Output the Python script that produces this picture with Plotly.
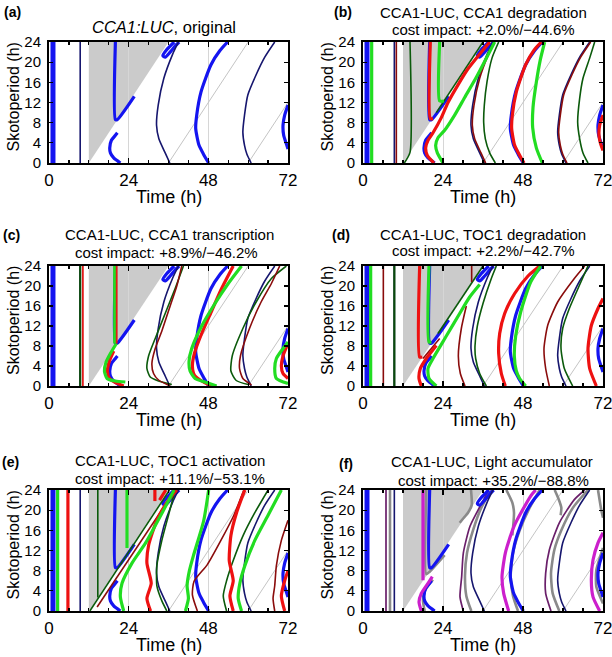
import plotly.graph_objects as go

W, H = 612, 657

# ---------------- shared data ----------------
dark_t = [12, 12, 36]          # dark-period region (lights off at 12 h)
dark_s = [0, 24, 24]
diag1_t = [36, 60]; diag1_s = [0, 24]
diag2_t = [60, 84]; diag2_s = [0, 24]

x_ticks = [0, 24, 48, 72]
y_ticks = [0, 4, 8, 12, 16, 20, 24]

# reference (original model) curves, shown in every panel
ref_edge_t = [1.2, 1.2]; ref_edge_s = [0, 24]
ref_navy_v_t = [9.4, 9.4]; ref_navy_v_s = [0, 24]
ref_blue_v_t = [20, 20, 20.6, 25.7]; ref_blue_v_s = [24, 8.6, 8.6, 13.2]
ref_blue_low_t = [21.5, 19.5, 18.5, 18.3, 18.8, 20.0, 20.6]; ref_blue_low_s = [0, 1, 2, 3, 4.5, 5.5, 6]
ref_blue_loop_t = [37.7, 35.5, 34.3, 35, 36.5, 38, 39.2]; ref_blue_loop_s = [24, 22.5, 21.3, 21, 22, 23.2, 24]
ref_navy1_t = [36.4, 35, 33.1, 32.4, 32.9, 34.6, 37.2, 39]; ref_navy1_s = [0, 2, 4.8, 7.5, 11.5, 16.8, 21.5, 24]
ref_blue2_t = [48.1, 46.5, 45.2, 44.2, 44.5, 45.8, 48.8, 51.5, 53.8]; ref_blue2_s = [0, 1.8, 3.5, 6.8, 9.5, 14.1, 19.5, 22.3, 24]
ref_navy2_t = [60.9, 59.6, 58.9, 58.4, 58.9, 59.9, 62.4, 65, 68]; ref_navy2_s = [0, 1.8, 3.5, 6.1, 9.5, 13.5, 17.5, 21, 24]
ref_blue3_t = [72, 71, 70.5, 70.7, 71.5, 72]; ref_blue3_s = [11.5, 9.5, 7.5, 5.5, 3.8, 2.8]

# panel (b): CCA1 degradation
b_green_v_t = [2.6, 2.6]; b_green_v_s = [0, 24]
b_dred_v_t = [10, 10]; b_dred_v_s = [0, 24]
b_dgreen_v_t = [14.1, 14.1, 12.4]; b_dgreen_v_s = [24, 2.1, 0]
b_red_v_t = [20.2, 20.2, 21]; b_red_v_s = [24, 8.8, 8.8]
b_dgreen_d_t = [22, 36]; b_dgreen_d_s = [10, 24]
b_red_low_t = [21.3, 19.3, 18.8, 19.5, 21, 23.5, 25.5, 28.5, 31.3, 38]; b_red_low_s = [0, 1.5, 3, 4.5, 6, 9, 12, 15.5, 18.5, 24]
b_green_v2_t = [23, 23, 24.3]; b_green_v2_s = [24, 12.3, 12.3]
b_green_low_t = [24, 22.3, 21.8, 22.5, 24.5, 27.5, 30.5, 34, 39.5]; b_green_low_s = [0, 2, 3.5, 5, 6.5, 9.5, 13, 17, 24]
b_dred1_t = [36.8, 35.4, 33.5, 32.8, 33.3, 35, 37.6, 39.4]; b_dred1_s = [0, 2, 4.8, 7.5, 11.5, 16.8, 21.5, 24]
b_dgreen1_t = [39.7, 38, 36.7, 36.2, 36.4, 37.2, 38.7, 40.7]; b_dgreen1_s = [0, 2, 4.8, 8.1, 11.5, 16.1, 20.8, 24]
b_red2_t = [48.3, 46.8, 45.5, 44.6, 44.8, 46, 48.8, 51.2, 53.5]; b_red2_s = [0, 1.8, 3.5, 6.8, 9.5, 14.1, 19.5, 22.3, 24]
b_green2_t = [53.8, 52, 50.9, 51, 52, 53.2, 54.5]; b_green2_s = [0, 3, 7, 11, 16, 20.5, 24]
b_dred2_t = [61.2, 59.9, 59.2, 58.7, 59.2, 60.2, 62.7, 65.3, 68.3]; b_dred2_s = [0, 1.8, 3.5, 6.1, 9.5, 13.5, 17.5, 21, 24]
b_dgreen2_t = [67.5, 66, 65, 64.4, 65, 66, 68, 69.5]; b_dgreen2_s = [0, 2, 4.8, 8.1, 12.8, 16.8, 20.8, 24]
b_red3_t = [72, 71, 70.8, 71.2, 72]; b_red3_s = [9.5, 7.5, 5.5, 4, 2.5]

# panel (c): CCA1 transcription
c_dgreen_v_t = [9.4, 9.4]; c_dgreen_v_s = [0, 24]
c_red_v_t = [10.2, 10.2]; c_red_v_s = [0, 24]
c_green_v_t = [19.8, 19.8]; c_green_v_s = [24, 8.5]
c_red_v2_t = [20.4, 20.4]; c_red_v2_s = [24, 8.5]
c_green_low_t = [23, 20, 17.5, 16.7, 17.2, 18.5, 20.3]; c_green_low_s = [0.8, 1, 1.5, 3, 4.8, 6.5, 8.5]
c_red_low_t = [22.5, 20, 18.2, 17.6, 18.2, 19.5]; c_red_low_s = [0, 0.7, 1.5, 3, 5, 7]
c_dgreen1_t = [37, 33, 30.5, 29.5, 30, 32, 35, 38, 40.5]; c_dgreen1_s = [0.3, 1, 1.8, 3.5, 6, 9.5, 14.5, 19.5, 24]
c_dred1_t = [36.5, 33, 31.5, 31, 32, 34, 36.5, 38.5, 40]; c_dred1_s = [0, 1.2, 2.5, 4.5, 7.5, 11, 16, 20, 24]
c_green2_t = [50.5, 47, 44, 42.5, 42.2, 43, 46, 50, 54, 58]; c_green2_s = [0, 0.8, 1.5, 3, 5, 7.5, 12, 16.5, 20.5, 24]
c_red2_t = [49, 46, 43.8, 43.2, 43.8, 46, 49, 52, 55.5]; c_red2_s = [0, 1, 2.2, 4, 6.5, 10.5, 15, 19.5, 24]
c_dgreen2_t = [60, 56.4, 54.8, 55.2, 58.4, 62.4, 67, 71.5]; c_dgreen2_s = [0.3, 1.1, 3, 6, 11.5, 16.8, 21.5, 24]
c_dred2_t = [61, 58.4, 57.4, 57.7, 60.4, 63.9, 67, 69.5]; c_dred2_s = [0.2, 1.5, 3.5, 6.1, 11.5, 16.8, 20.5, 24]
c_green3_t = [72, 68.5, 68, 68.5, 70.5, 72]; c_green3_s = [0.5, 1.5, 3.5, 5.5, 7.5, 8.8]
c_red3_t = [72, 70.5, 70, 70.5, 72]; c_red3_s = [1.5, 2.5, 4, 6, 8.5]

# panel (d): TOC1 degradation
d_green_v_t = [2.3, 2.3]; d_green_v_s = [0, 24]
d_dred_v_t = [6.1, 6.1]; d_dred_v_s = [0, 24]
d_dgreen_v_t = [9.4, 9.4]; d_dgreen_v_s = [0, 24]
d_red_v_t = [17, 17, 17.8]; d_red_v_s = [24, 5.8, 5.8]
d_dred_d_t = [18, 23]; d_dred_d_s = [5.5, 9.5]
d_green_v2_t = [19.8, 19.8, 20.5]; d_green_v2_s = [24, 8.8, 8.8]
d_dgreen_d_t = [22.5, 36]; d_dgreen_d_s = [10.5, 24]
d_dred_v2_t = [32.6, 32.6]; d_dred_v2_s = [24, 20.8]
d_green_low_t = [22, 19.8, 19.5, 21, 25, 29, 32, 35]; d_green_low_s = [0, 1.5, 3.5, 5.5, 10, 14.5, 17.8, 20.3]
d_red_low_t = [17.5, 16.8, 17.2, 19, 22]; d_red_low_s = [0, 1.5, 3.5, 5.5, 8.1]
d_dred1_t = [30.6, 29.2, 28.6, 29.5, 31]; d_dred1_s = [0, 2.5, 6, 11.5, 16]
d_dgreen1_t = [37, 35, 33.8, 33.6, 34.3, 36, 38.5, 40]; d_dgreen1_s = [0, 2.5, 5.5, 8, 12, 16.5, 21.5, 24]
d_red2_t = [42.7, 41.5, 40.7, 41, 42.5, 45.5, 49.5, 53]; d_red2_s = [0, 2.5, 6.5, 10.5, 14.5, 18.5, 22, 24]
d_green2_t = [48.8, 47, 46, 45.4, 45.8, 47.3, 50.3, 53.3]; d_green2_s = [0, 1.5, 3, 6, 10, 14.8, 20.8, 24]
d_dred2_t = [55.9, 54.8, 54.3, 55.4, 58.4, 63.4, 66.5]; d_dred2_s = [0, 3.5, 7.5, 12.1, 16.8, 21.5, 24]
d_dgreen2_t = [62.9, 60.4, 59.4, 59.9, 61.9, 64.9, 67.5]; d_dgreen2_s = [0, 3.5, 7.5, 11.5, 15.5, 20.1, 24]
d_red3_t = [70, 68, 67.5, 68.5, 70.5, 72]; d_red3_s = [0, 3.5, 7.5, 12.1, 15.5, 17.5]

# panel (e): TOC1 activation
e_green_v_t = [2.6, 2.6]; e_green_v_s = [0, 24]
e_red_v_t = [5.7, 5.7]; e_red_v_s = [0, 24]
e_dgreen_v_t = [14.7, 14.7]; e_dgreen_v_s = [24, 2.7]
e_dgreen_d_t = [12.3, 36.3]; e_dgreen_d_s = [0, 24]
e_dred_d_t = [14.5, 38]; e_dred_d_s = [0.8, 24]
e_green_v2_t = [23.5, 23.5]; e_green_v2_s = [24, 12.5]
e_red_sh_t = [31.9, 31.9]; e_red_sh_s = [24, 21.8]
e_red_sh2_t = [33.3, 35.2]; e_red_sh2_s = [22, 24]
e_green_low_t = [22.5, 21.5, 22, 25, 29.1, 34.1, 37.7]; e_green_low_s = [0, 2.8, 5.5, 9.5, 13.5, 19.5, 24]
e_red1_t = [30.6, 29.5, 30.8, 29.5, 30, 32.5, 36, 38.5]; e_red1_s = [0, 2.5, 5.5, 9.5, 13, 18, 22, 24]
e_dgreen1_t = [35.5, 34, 32.5, 32.5, 34, 36, 38]; e_dgreen1_s = [0, 2, 5, 9, 14, 19, 24]
e_green2_t = [41.1, 42, 41.6, 42.3, 43.6, 46.6, 48.1]; e_green2_s = [0, 2.5, 5, 8, 11.2, 17.9, 24]
e_dred2_t = [44.7, 43.2, 43.7, 47.7, 51.7, 55.7, 58.7]; e_dred2_s = [0, 3.2, 5.9, 9.2, 13.9, 19, 24]
e_red2_t = [55.5, 54.5, 55.5, 54.3, 54.8, 56.5, 59]; e_red2_s = [0, 3, 6, 10, 15, 19.5, 24]
e_dgreen2_t = [53.5, 52.5, 53.5, 55.5, 58.5, 62, 66]; e_dgreen2_s = [0, 3, 6, 10, 15, 19.5, 24]
e_green3_t = [58, 57, 57.5, 59, 62, 66, 70]; e_green3_s = [0, 2.5, 5.5, 9, 14, 19, 24]
e_dred3_t = [68, 67.5, 68, 68.5, 70, 72]; e_dred3_s = [0, 2.5, 5, 9, 14, 18]
e_red3_t = [71, 70, 71, 72]; e_red3_s = [0, 3, 6, 8]

# panel (f): light accumulator
f_purp_v_t = [6.9, 6.9]; f_purp_v_s = [0, 24]
f_gray_v_t = [8.1, 8.1]; f_gray_v_s = [0, 24]
f_mag_v_t = [18, 18]; f_mag_v_s = [24, 6.1]
f_gray_v2_t = [19, 19, 20, 24.5]; f_gray_v2_s = [24, 7.3, 7.8, 11.1]
f_gray_up_t = [32.4, 32.6, 31.5, 30, 29]; f_gray_up_s = [24, 21, 19.5, 18.3, 17.5]
f_mag_low_t = [17.5, 16.8, 17.5, 19.5, 20.8]; f_mag_low_s = [0, 1.8, 3.5, 5.5, 6.8]
f_gray_low_t = [18.5, 18, 18.3, 19.5, 21]; f_gray_low_s = [0, 2, 3.5, 5, 6.2]
f_purp1_t = [30.1, 29.1, 29.6, 30.1, 32.1, 36.2, 37.7]; f_purp1_s = [0, 2.8, 6.8, 11.5, 16.8, 22.1, 24]
f_gray1_t = [32.5, 31, 30.6, 31.2, 33, 35.5, 38.5]; f_gray1_s = [0, 3, 7, 11.5, 16, 20.5, 24]
f_mag2_t = [43.7, 42.2, 41.7, 42.7, 45.3, 50.3, 51.8]; f_mag2_s = [0, 3.5, 6.8, 11.5, 16.8, 22.8, 24]
f_gray2_t = [46.5, 45, 44.3, 45, 47, 50, 53]; f_gray2_s = [0, 3, 6.8, 11.5, 16, 20.5, 24]
f_gray_t1_t = [43, 44.8, 45.3, 44.8]; f_gray_t1_s = [24, 21.5, 19.5, 15]
f_purp2_t = [56.4, 54.8, 54.8, 55.9, 58.9, 63.4, 66.5]; f_purp2_s = [0, 3.5, 7.5, 12.1, 17.5, 22.1, 24]
f_gray3_t = [58.9, 56.9, 56.4, 57.4, 59.5, 63, 67.5]; f_gray3_s = [0, 3.5, 7.5, 12.1, 16, 20.5, 24]
f_gray_t2_t = [57.5, 58.5, 59.5, 59.3]; f_gray_t2_s = [24, 22.5, 20.5, 19]
f_mag3_t = [71, 69, 68.5, 69, 70.5, 72]; f_mag3_s = [0, 2.8, 6.1, 10.1, 13.5, 15.5]
f_gray4_t = [72, 70, 70, 71.5, 72]; f_gray4_s = [1.5, 4.8, 8.1, 11.5, 12.5]
f_gray_t3_t = [70.5, 71.5, 72]; f_gray_t3_s = [24, 20, 18.5]

# ---------------- styles ----------------
ST = {
    'edge': dict(color='#1414f0', width=5),
    'blue': dict(color='#1414f0', width=3.2),
    'navy': dict(color='#16166e', width=1.6),
    'red': dict(color='#ee1111', width=3.2),
    'redthin': dict(color='#e01a1a', width=1.8),
    'dred': dict(color='#8a0c0c', width=1.6),
    'green': dict(color='#22dd22', width=3.2),
    'dgreen': dict(color='#0b5a0b', width=1.6),
    'dgreenv': dict(color='#0b4a0b', width=2.2),
    'mag': dict(color='#cc1fcc', width=3.2),
    'purp': dict(color='#6a1f6a', width=1.7),
    'gray': dict(color='#8a8a8a', width=2.6),
    'diag': dict(color='#c4c4c4', width=1),
}

ref = [
    (ref_edge_t, ref_edge_s, 'edge'), (ref_navy_v_t, ref_navy_v_s, 'navy'),
    (ref_blue_v_t, ref_blue_v_s, 'blue'), (ref_blue_low_t, ref_blue_low_s, 'blue'),
    (ref_blue_loop_t, ref_blue_loop_s, 'blue'), (ref_navy1_t, ref_navy1_s, 'navy'),
    (ref_blue2_t, ref_blue2_s, 'blue'), (ref_navy2_t, ref_navy2_s, 'navy'),
    (ref_blue3_t, ref_blue3_s, 'blue'),
]

panels = [
    [],
    [(b_green_v_t, b_green_v_s, 'green'), (b_dred_v_t, b_dred_v_s, 'dred'),
     (b_dgreen_v_t, b_dgreen_v_s, 'dgreen'), (b_dgreen_d_t, b_dgreen_d_s, 'dgreen'),
     (b_dred1_t, b_dred1_s, 'dred'), (b_dgreen1_t, b_dgreen1_s, 'dgreen'),
     (b_dred2_t, b_dred2_s, 'dred'), (b_dgreen2_t, b_dgreen2_s, 'dgreen'),
     (b_red_v_t, b_red_v_s, 'red'), (b_red_low_t, b_red_low_s, 'red'),
     (b_red2_t, b_red2_s, 'red'), (b_red3_t, b_red3_s, 'red'),
     (b_green_v2_t, b_green_v2_s, 'green'), (b_green_low_t, b_green_low_s, 'green'),
     (b_green2_t, b_green2_s, 'green')],
    [(c_dgreen_v_t, c_dgreen_v_s, 'dgreenv'), (c_red_v_t, c_red_v_s, 'redthin'),
     (c_dgreen1_t, c_dgreen1_s, 'dgreen'), (c_dred1_t, c_dred1_s, 'dred'),
     (c_dgreen2_t, c_dgreen2_s, 'dgreen'), (c_dred2_t, c_dred2_s, 'dred'),
     (c_red_low_t, c_red_low_s, 'red'), (c_red2_t, c_red2_s, 'red'), (c_red3_t, c_red3_s, 'red'),
     (c_green_low_t, c_green_low_s, 'green'), (c_green2_t, c_green2_s, 'green'),
     (c_green3_t, c_green3_s, 'green'),
     (c_green_v_t, c_green_v_s, 'green'), (c_red_v2_t, c_red_v2_s, 'redthin')],
    [(d_green_v_t, d_green_v_s, 'green'), (d_dred_v_t, d_dred_v_s, 'dred'),
     (d_dgreen_v_t, d_dgreen_v_s, 'dgreenv'), (d_dred_d_t, d_dred_d_s, 'dred'),
     (d_dgreen_d_t, d_dgreen_d_s, 'dgreen'), (d_dred_v2_t, d_dred_v2_s, 'dred'),
     (d_dred1_t, d_dred1_s, 'dred'), (d_dgreen1_t, d_dgreen1_s, 'dgreen'),
     (d_dred2_t, d_dred2_s, 'dred'), (d_dgreen2_t, d_dgreen2_s, 'dgreen'),
     (d_red_v_t, d_red_v_s, 'red'), (d_red_low_t, d_red_low_s, 'red'),
     (d_red2_t, d_red2_s, 'red'), (d_red3_t, d_red3_s, 'red'),
     (d_green_v2_t, d_green_v2_s, 'green'), (d_green_low_t, d_green_low_s, 'green'),
     (d_green2_t, d_green2_s, 'green')],
    [(e_green_v_t, e_green_v_s, 'green'), (e_red_v_t, e_red_v_s, 'red'),
     (e_dgreen_v_t, e_dgreen_v_s, 'dgreen'), (e_dgreen_d_t, e_dgreen_d_s, 'dgreen'),
     (e_dred_d_t, e_dred_d_s, 'dred'), (e_dgreen1_t, e_dgreen1_s, 'dgreen'),
     (e_dred2_t, e_dred2_s, 'dred'), (e_dgreen2_t, e_dgreen2_s, 'dgreen'),
     (e_dred3_t, e_dred3_s, 'dred'),
     (e_red_sh_t, e_red_sh_s, 'red'), (e_red_sh2_t, e_red_sh2_s, 'red'),
     (e_red1_t, e_red1_s, 'red'), (e_red2_t, e_red2_s, 'red'), (e_red3_t, e_red3_s, 'red'),
     (e_green_v2_t, e_green_v2_s, 'green'), (e_green_low_t, e_green_low_s, 'green'),
     (e_green2_t, e_green2_s, 'green'), (e_green3_t, e_green3_s, 'green')],
    [(f_purp_v_t, f_purp_v_s, 'purp'), (f_gray_v_t, f_gray_v_s, 'gray'),
     (f_gray_v2_t, f_gray_v2_s, 'gray'), (f_gray_up_t, f_gray_up_s, 'gray'),
     (f_gray_low_t, f_gray_low_s, 'gray'), (f_gray1_t, f_gray1_s, 'gray'),
     (f_gray2_t, f_gray2_s, 'gray'), (f_gray_t1_t, f_gray_t1_s, 'gray'),
     (f_gray3_t, f_gray3_s, 'gray'), (f_gray_t2_t, f_gray_t2_s, 'gray'),
     (f_gray4_t, f_gray4_s, 'gray'), (f_gray_t3_t, f_gray_t3_s, 'gray'),
     (f_purp1_t, f_purp1_s, 'purp'), (f_purp2_t, f_purp2_s, 'purp'),
     (f_mag_v_t, f_mag_v_s, 'mag'), (f_mag_low_t, f_mag_low_s, 'mag'),
     (f_mag2_t, f_mag2_s, 'mag'), (f_mag3_t, f_mag3_s, 'mag')],
]
ref_first = [True, True, True, True, True, False]

# ---------------- layout geometry (page px) ----------------
col_x = [(49, 288), (363, 603)]
row_y = [(42, 163), (266, 386), (490, 611)]

FONT = 'Liberation Sans, Arial, Helvetica, sans-serif'
fig = go.Figure()
layout = dict(template='none', width=W, height=H, margin=dict(l=0, r=0, t=0, b=0, autoexpand=False),
              autosize=False, plot_bgcolor='white', paper_bgcolor='white', showlegend=False,
              font=dict(family=FONT, color='black'))
shapes = []
annotations = []


def P(xp, yp):
    return xp / W, 1 - yp / H


for i in range(6):
    r, c = divmod(i, 2)
    k = '' if i == 0 else str(i + 1)
    xa, ya = 'x' + k, 'y' + k
    x0, x1 = col_x[c]
    y0, y1 = row_y[r]
    layout['xaxis' + k] = dict(
        domain=[x0 / W, x1 / W], anchor=ya, range=[0, 72], tickvals=x_ticks, automargin=False,
        ticks='inside', ticklen=5, tickwidth=1.2, tickcolor='black', mirror='allticks',
        showline=True, linecolor='black', linewidth=2, showgrid=True, gridcolor='#d6d6d6',
        gridwidth=1, zeroline=False, tickfont=dict(size=17), ticklabelstandoff=1,
        ticklabeloverflow='allow',
        minor=dict(dtick=6, tick0=0, ticks='inside', ticklen=3, tickcolor='black', showgrid=False),
        fixedrange=True)
    layout['yaxis' + k] = dict(
        domain=[1 - y1 / H, 1 - y0 / H], anchor=xa, range=[0, 24], tickvals=y_ticks, automargin=False,
        ticks='inside', ticklen=4, tickwidth=1.2, tickcolor='black', mirror='allticks',
        showline=True, linecolor='black', linewidth=2, showgrid=False, zeroline=False,
        tickfont=dict(size=15), ticklabelstandoff=3, ticklabeloverflow='allow', fixedrange=True)
    path = 'M ' + ' L '.join(f'{t},{s}' for t, s in zip(dark_t, dark_s)) + ' Z'
    shapes.append(dict(type='path', path=path, xref=xa, yref=ya, layer='below',
                       fillcolor='#cbcbcb', line=dict(width=0)))
    for tt, ss in ((diag1_t, diag1_s), (diag2_t, diag2_s)):
        fig.add_trace(go.Scatter(x=tt, y=ss, mode='lines', line=ST['diag'], xaxis=xa, yaxis=ya,
                                 hoverinfo='skip'))
    curves = (ref + panels[i]) if ref_first[i] else panels[i][:14] + ref + panels[i][14:]
    for tt, ss, st in curves:
        fig.add_trace(go.Scatter(x=tt, y=ss, mode='lines', line=dict(**ST[st], shape='spline', smoothing=0.6),
                                 xaxis=xa, yaxis=ya, hoverinfo='skip'))
    cx = (x0 + x1) / 2
    tx, ty = P(cx, y1 + 34)
    annotations.append(dict(x=tx, y=ty, xref='paper', yref='paper', text='Time (h)', showarrow=False,
                            font=dict(size=18), xanchor='center', yanchor='middle'))
    sx, sy = P(x0 - 36, (y0 + y1) / 2 - 5)
    annotations.append(dict(x=sx, y=sy, xref='paper', yref='paper', text='Skotoperiod (h)',
                            showarrow=False, textangle=-90, font=dict(size=16),
                            xanchor='center', yanchor='middle'))

titles = [
    ((12, 12), '(a)', [((164, 27), '<i>CCA1:LUC</i>, original', 16.5)]),
    ((343, 12), '(b)', [((483, 12), 'CCA1-LUC, CCA1 degradation', 15), ((483, 29), 'cost impact: +2.0%/\u221244.6%', 15)]),
    ((11, 235), '(c)', [((169, 234), 'CCA1-LUC, CCA1 transcription', 15), ((167, 252), 'cost impact: +8.9%/\u221246.2%', 15)]),
    ((341, 235), '(d)', [((483, 234), 'CCA1-LUC, TOC1 degradation', 15), ((483, 251), 'cost impact: +2.2%/\u221242.7%', 15)]),
    ((10, 462), '(e)', [((170, 460), 'CCA1-LUC, TOC1 activation', 15), ((170, 478), 'cost impact: +11.1%/\u221253.1%', 15)]),
    ((346, 464), '(f)', [((492, 461), 'CCA1-LUC, Light accumulator', 15), ((493, 480), 'cost impact: +35.2%/\u221288.8%', 15)]),
]
for (lx, ly), lab, lines in titles:
    px, py = P(lx, ly)
    annotations.append(dict(x=px, y=py, xref='paper', yref='paper', text=f'<b>{lab}</b>', showarrow=False,
                            font=dict(size=14), xanchor='center', yanchor='middle'))
    for (tx, ty), txt, fs in lines:
        px, py = P(tx, ty)
        annotations.append(dict(x=px, y=py, xref='paper', yref='paper', text=txt, showarrow=False,
                                font=dict(size=fs), xanchor='center', yanchor='middle'))

layout['shapes'] = shapes
layout['annotations'] = annotations
fig.update_layout(**layout)
fig.write_html('out.html', config={'displayModeBar': False, 'staticPlot': True},
               post_script="document.body.style.margin='0px';document.body.style.overflow='hidden';")
